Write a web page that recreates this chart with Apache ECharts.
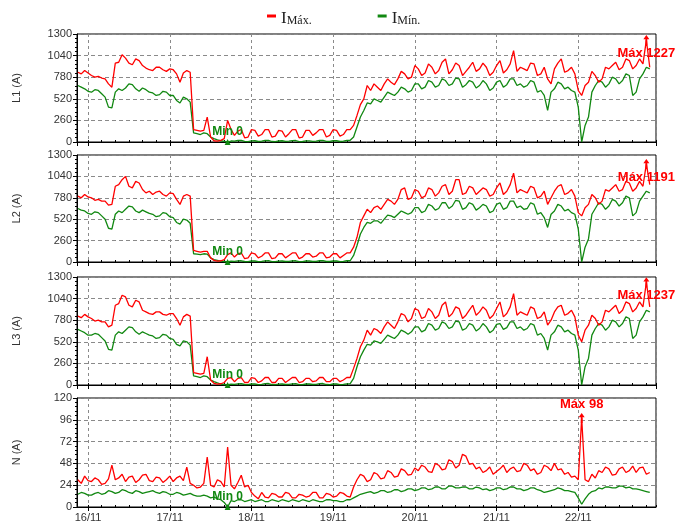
<!DOCTYPE html>
<html>
<head>
<meta charset="utf-8">
<script src="https://cdn.jsdelivr.net/npm/echarts@6/dist/echarts.min.js"></script>
<style>
html, body { margin: 0; padding: 0; background: #fff; }
#chart { width: 676px; height: 527px; }
</style>
</head>
<body>
<div id="chart"></div>
<script>
// hourly samples, first one at 15/11 21:00
var startTime = new Date(2021, 10, 15, 21, 0).getTime();
var stepMs = 3600 * 1000;

var panelNames = ['L1 (A)', 'L2 (A)', 'L3 (A)', 'N (A)'];
var yMax = [1300, 1300, 1300, 120];
var yStep = [260, 260, 260, 24];

var l1Max = [840, 820, 860, 830, 800, 780, 790, 770, 760, 700, 660, 950, 960, 1050, 1010, 950, 930, 1000, 980, 920,
  890, 870, 860, 900, 900, 870, 850, 880, 870, 820, 720, 830, 860, 840, 150, 140, 130, 140, 300, 60,
  15, 10, 20, 40, 260, 150, 80, 130, 150, 50, 60, 150, 140, 70, 90, 150, 150, 60, 70, 140,
  130, 60, 100, 150, 150, 50, 60, 140, 140, 80, 110, 150, 150, 60, 80, 150, 140, 70, 90, 150,
  150, 200, 320, 450, 520, 680, 620, 700, 660, 620, 700, 760, 720, 690, 760, 850, 820, 760, 780, 920,
  880, 800, 830, 940, 900, 820, 860, 960, 1000, 820, 870, 950, 920, 800, 850, 900, 960, 850, 880, 950,
  900, 800, 840, 920, 980, 830, 870, 940, 1100, 850, 900, 880, 860, 950, 940, 800, 820, 900, 760, 700,
  880, 950, 1000, 840, 860, 900, 820, 620, 560, 680, 720, 850, 800, 720, 760, 900, 880, 920, 960, 870,
  900, 1000, 980, 880, 920, 1000, 940, 1227, 900];
var l1Min = [680, 660, 640, 610, 600, 630, 620, 580, 540, 420, 410, 600, 640, 620, 650, 700, 690, 640, 610, 650,
  630, 600, 590, 560, 570, 610, 600, 560, 560, 500, 470, 540, 520, 480, 110, 100, 90, 110, 100, 60,
  40, 25, 15, 8, 0, 12, 10, 18, 20, 8, 5, 14, 15, 6, 10, 18, 20, 6, 5, 12,
  15, 8, 10, 16, 18, 5, 6, 14, 14, 7, 10, 18, 20, 8, 8, 15, 15, 6, 10, 18,
  20, 60, 180, 300, 380, 470, 460, 520, 500, 480, 540, 600, 580, 560, 600, 660, 640, 600, 620, 700,
  700, 640, 660, 740, 720, 660, 680, 760, 740, 680, 700, 770, 760, 660, 690, 740, 720, 650, 680, 740,
  700, 620, 650, 720, 740, 660, 690, 760, 760, 680, 700, 660, 680, 740, 720, 600, 620, 560, 380, 600,
  640, 720, 700, 640, 660, 620, 600, 420, 0, 200, 300, 600, 680, 740, 720, 660, 700, 780, 760, 700,
  740, 820, 800, 560, 600, 760, 820, 900, 880];

var l2Max = [800, 780, 820, 790, 780, 750, 760, 740, 740, 690, 700, 920, 940, 1000, 1040, 920, 900, 980, 960, 880,
  840, 860, 820, 850, 860, 820, 800, 840, 830, 760, 700, 800, 820, 800, 140, 130, 120, 130, 130, 50,
  20, 10, 15, 30, 90, 110, 60, 100, 110, 40, 50, 110, 100, 50, 70, 110, 110, 40, 50, 100,
  100, 50, 80, 110, 110, 40, 60, 100, 100, 60, 70, 110, 110, 50, 60, 100, 100, 50, 80, 110,
  110, 180, 300, 480, 560, 640, 600, 660, 680, 640, 700, 760, 740, 700, 760, 880, 900, 760, 780, 880,
  860, 780, 800, 900, 880, 800, 840, 920, 940, 820, 860, 1000, 1000, 820, 840, 920, 900, 820, 860, 900,
  880, 800, 820, 900, 960, 820, 860, 940, 1080, 840, 880, 860, 840, 920, 900, 780, 800, 860, 700, 780,
  860, 920, 940, 820, 840, 880, 800, 600, 560, 660, 700, 820, 780, 700, 740, 880, 860, 900, 940, 860,
  880, 980, 960, 860, 900, 980, 920, 1191, 940];
var l2Min = [650, 630, 620, 590, 580, 610, 600, 560, 520, 410, 400, 580, 620, 600, 640, 680, 670, 620, 600, 630,
  610, 590, 580, 550, 560, 600, 590, 550, 540, 480, 460, 520, 510, 470, 100, 95, 90, 100, 95, 50,
  30, 20, 10, 6, 0, 10, 8, 14, 15, 6, 5, 12, 12, 5, 8, 14, 16, 5, 4, 10,
  12, 6, 8, 14, 15, 4, 5, 12, 12, 6, 8, 15, 16, 6, 6, 12, 12, 5, 8, 15,
  15, 80, 200, 340, 420, 480, 470, 500, 500, 470, 520, 570, 560, 540, 580, 620, 600, 580, 600, 660,
  660, 600, 620, 700, 680, 630, 650, 720, 720, 650, 680, 750, 740, 640, 660, 720, 700, 630, 660, 700,
  680, 600, 620, 700, 720, 640, 660, 740, 740, 660, 680, 640, 650, 720, 700, 580, 600, 540, 420, 580,
  620, 700, 680, 620, 640, 600, 580, 400, 0, 180, 280, 580, 650, 720, 700, 640, 680, 760, 740, 680,
  720, 800, 780, 560, 600, 740, 800, 860, 840];

var l3Max = [830, 810, 850, 820, 800, 770, 780, 760, 760, 700, 720, 960, 980, 1080, 1060, 960, 940, 1020, 1000, 900,
  880, 860, 850, 880, 880, 850, 840, 860, 860, 800, 720, 820, 850, 830, 150, 140, 130, 140, 340, 60,
  20, 10, 15, 30, 80, 90, 40, 80, 90, 30, 30, 90, 80, 30, 50, 90, 90, 30, 30, 80,
  80, 30, 60, 90, 90, 30, 40, 80, 80, 40, 50, 90, 90, 40, 40, 80, 80, 40, 60, 90,
  90, 200, 320, 460, 540, 660, 600, 680, 660, 620, 700, 760, 720, 680, 760, 860, 840, 760, 800, 920,
  900, 800, 820, 920, 880, 800, 840, 960, 1000, 820, 860, 940, 920, 800, 840, 900, 960, 840, 880, 940,
  900, 800, 840, 920, 1000, 820, 860, 940, 1100, 840, 880, 860, 840, 940, 920, 800, 820, 880, 720, 780,
  880, 940, 960, 840, 860, 900, 820, 600, 520, 660, 720, 840, 800, 720, 760, 900, 880, 920, 960, 860,
  900, 1000, 980, 880, 920, 1000, 940, 1237, 940];
var l3Min = [670, 650, 630, 600, 600, 620, 610, 570, 530, 430, 420, 600, 640, 620, 660, 700, 690, 640, 610, 640,
  620, 600, 590, 560, 570, 610, 600, 560, 550, 490, 470, 530, 520, 480, 110, 100, 90, 110, 100, 60,
  40, 25, 12, 6, 0, 10, 8, 14, 16, 6, 4, 12, 12, 5, 8, 16, 18, 6, 5, 10,
  12, 6, 8, 14, 16, 4, 5, 12, 12, 6, 8, 16, 18, 6, 5, 12, 12, 5, 8, 14,
  16, 80, 220, 340, 420, 490, 480, 530, 520, 500, 550, 600, 580, 560, 600, 660, 640, 610, 640, 700,
  700, 640, 660, 740, 720, 660, 680, 760, 740, 680, 700, 770, 760, 660, 680, 740, 720, 650, 680, 740,
  700, 630, 660, 730, 740, 670, 690, 760, 760, 680, 700, 660, 680, 740, 720, 600, 620, 560, 420, 600,
  640, 720, 700, 640, 660, 620, 600, 420, 0, 220, 320, 600, 680, 740, 720, 660, 700, 780, 760, 700,
  740, 820, 800, 560, 600, 760, 820, 900, 880];

var nMax = [30, 26, 34, 29, 28, 32, 30, 25, 26, 31, 46, 30, 32, 36, 28, 33, 34, 27, 30, 35,
  36, 29, 28, 33, 32, 27, 30, 34, 28, 32, 34, 29, 44, 26, 24, 21, 22, 26, 55, 24,
  22, 30, 28, 22, 66, 24, 20, 27, 35, 22, 24, 16, 12, 9, 16, 11, 10, 15, 14, 11,
  11, 16, 15, 10, 10, 14, 13, 11, 12, 16, 16, 10, 10, 15, 14, 11, 12, 16, 15, 12,
  11, 22, 30, 36, 34, 28, 30, 38, 36, 31, 32, 40, 38, 33, 34, 42, 40, 35, 36, 43,
  40, 46, 44, 39, 38, 48, 46, 41, 42, 52, 50, 43, 46, 58, 56, 47, 48, 42, 44, 38,
  40, 44, 36, 39, 42, 46, 38, 42, 44, 39, 40, 48, 46, 40, 42, 36, 38, 46, 44, 40,
  48, 41, 42, 36, 38, 33, 34, 30, 98, 30, 28, 36, 32, 40, 38, 44, 42, 35, 36, 42,
  44, 38, 40, 45, 38, 43, 44, 36, 38];
var nMin = [14, 16, 15, 13, 13, 15, 16, 14, 15, 18, 17, 15, 16, 19, 18, 16, 15, 18, 17, 15,
  16, 17, 18, 16, 15, 17, 16, 14, 14, 16, 15, 13, 14, 15, 13, 12, 12, 13, 12, 10,
  11, 9, 8, 5, 0, 7, 6, 8, 8, 6, 7, 8, 6, 7, 8, 6, 6, 8, 7, 6,
  8, 7, 6, 8, 7, 6, 8, 7, 6, 8, 7, 6, 6, 8, 8, 7, 7, 6, 6, 8,
  8, 10, 12, 14, 15, 16, 17, 15, 16, 18, 18, 16, 17, 19, 19, 17, 18, 20, 20, 18,
  19, 21, 21, 19, 20, 22, 22, 20, 20, 23, 23, 21, 21, 22, 22, 20, 20, 22, 21, 19,
  20, 18, 19, 21, 21, 19, 20, 22, 22, 20, 20, 18, 19, 21, 21, 19, 18, 16, 17, 18,
  19, 21, 20, 18, 18, 17, 16, 10, 3, 9, 14, 17, 18, 21, 20, 22, 22, 21, 21, 23,
  23, 21, 22, 20, 20, 19, 18, 17, 16];

var maxData = [l1Max, l2Max, l3Max, nMax];
var minData = [l1Min, l2Min, l3Min, nMin];

var RED = '#ff0000';
var GREEN = '#118811';
var gridTops = [34, 155, 277, 398];
var gridHeights = [108, 107, 108, 109];
var axisStart = new Date(2021, 10, 15, 20, 45).getTime();
var axisEnd = new Date(2021, 10, 22, 22, 50).getTime();
var arrowPath = 'path://M5,0L10,6L6.5,6L6.5,14L3.5,14L3.5,6L0,6Z';

function toPairs(arr) {
    return arr.map(function (v, i) { return [startTime + i * stepMs, v]; });
}
function pad(n) { return n < 10 ? '0' + n : '' + n; }

var grids = [], xAxes = [], yAxes = [], series = [];
for (var k = 0; k < 4; k++) {
    grids.push({
        left: 77, right: 20, top: gridTops[k], height: gridHeights[k],
        show: true, borderColor: '#000', borderWidth: 1
    });
    // day ticks + dashed verticals
    xAxes.push({
        type: 'time', gridIndex: k, min: axisStart, max: axisEnd,
        minInterval: 86400000, maxInterval: 86400000,
        axisLine: {show: true, onZero: false, lineStyle: {color: '#000'}},
        axisTick: {show: true, length: 4, lineStyle: {color: '#000'}},
        axisLabel: {
            show: k === 3, fontSize: 11, color: '#333', fontFamily: 'Liberation Sans', margin: 5,
            formatter: function (v) {
                var d = new Date(v);
                return pad(d.getDate()) + '/' + pad(d.getMonth() + 1);
            }
        },
        splitLine: {show: true, lineStyle: {type: [3, 3], color: '#8a8a8a', width: 1}}
    });
    // 6 hour minor ticks
    xAxes.push({
        type: 'time', gridIndex: k, min: axisStart, max: axisEnd,
        minInterval: 21600000, maxInterval: 21600000,
        axisLine: {show: false},
        axisTick: {show: true, length: 2, lineStyle: {color: '#000'}},
        axisLabel: {show: false},
        splitLine: {show: false}
    });
    yAxes.push({
        type: 'value', gridIndex: k, min: 0, max: yMax[k], interval: yStep[k],
        name: panelNames[k], nameLocation: 'middle', nameGap: 55, nameRotate: 90,
        nameTextStyle: {fontSize: 11, color: '#333', fontFamily: 'Liberation Sans'},
        axisLine: {show: true, lineStyle: {color: '#000'}},
        axisTick: {show: true, length: 4, lineStyle: {color: '#000'}},
        minorTick: {show: true, splitNumber: 5, length: 2, lineStyle: {color: '#000'}},
        axisLabel: {
            fontSize: 11, color: '#333', fontFamily: 'Liberation Sans', margin: 5,
            formatter: function (v) { return String(v); }
        },
        splitLine: {show: true, lineStyle: {type: [4, 3], color: '#8a8a8a', width: 1}}
    });
    series.push({
        name: 'IMín', type: 'line', xAxisIndex: k * 2, yAxisIndex: k,
        data: toPairs(minData[k]), showSymbol: false, symbol: 'none',
        lineStyle: {color: GREEN, width: 1.3}, itemStyle: {color: GREEN},
        markPoint: {
            symbol: 'triangle', symbolSize: 6,
            itemStyle: {color: GREEN},
            label: {
                show: true, position: 'top', distance: 1, color: GREEN,
                fontWeight: 'bold', fontSize: 12, fontFamily: 'Liberation Sans',
                formatter: function (p) { return 'Min ' + p.value; }
            },
            data: [{type: 'min'}]
        }
    });
    series.push({
        name: 'IMáx', type: 'line', xAxisIndex: k * 2, yAxisIndex: k,
        data: toPairs(maxData[k]), showSymbol: false, symbol: 'none',
        lineStyle: {color: RED, width: 1.3}, itemStyle: {color: RED},
        markPoint: {
            symbol: arrowPath, symbolSize: [6, 10],
            itemStyle: {color: RED},
            label: {
                show: true, position: k === 3 ? 'top' : 'bottom', distance: 2, color: RED,
                fontWeight: 'bold', fontSize: 13, fontFamily: 'Liberation Sans',
                formatter: function (p) { return 'Máx ' + p.value; }
            },
            data: [{type: 'max'}]
        }
    });
}

var myChart = echarts.init(document.getElementById('chart'));
var option = {
    animation: false,
    backgroundColor: '#fff',
    legend: {
        data: ['IMáx', 'IMín'],
        left: 262, top: 2, itemGap: 66,
        itemWidth: 9, itemHeight: 3,
        icon: 'rect',
        formatter: function (name) {
            return name === 'IMáx' ? '{i|I}{s|Máx.}' : '{i|I}{s|Mín.}';
        },
        textStyle: {
            rich: {
                i: {fontFamily: 'Liberation Serif', fontSize: 17, color: '#222', lineHeight: 22, verticalAlign: 'bottom'},
                s: {fontFamily: 'Liberation Serif', fontSize: 12, color: '#222', lineHeight: 22, verticalAlign: 'bottom', padding: [8, 0, 0, 0]}
            }
        }
    },
    grid: grids,
    xAxis: xAxes,
    yAxis: yAxes,
    series: series
};
myChart.setOption(option);
window.onresize = myChart.resize;
</script>
</body>
</html>
